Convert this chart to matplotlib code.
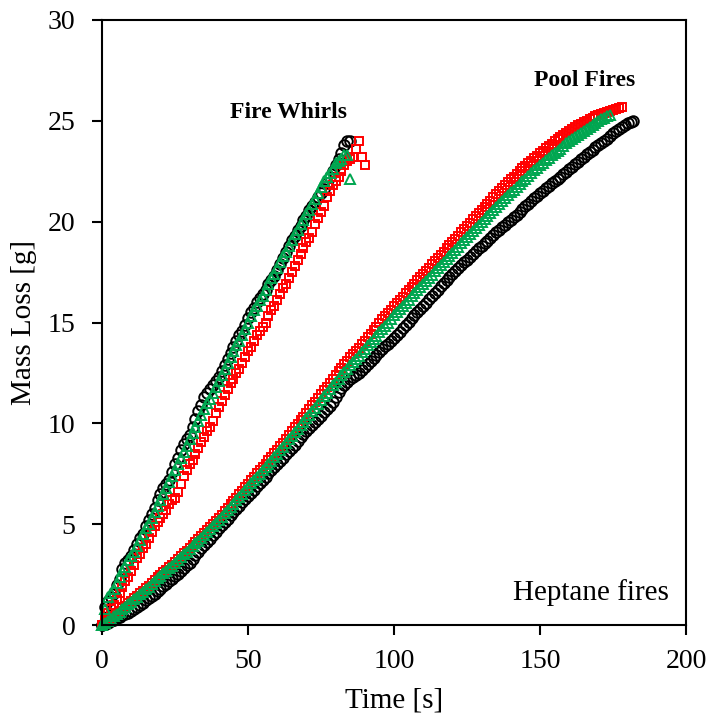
import numpy as np
import matplotlib
matplotlib.use('Agg')
import matplotlib.pyplot as plt

plt.rcParams['font.family'] = ['Liberation Serif', 'DejaVu Serif']

# pool fires, one reading per second
pool_black = [0.0, 0.05, 0.1, 0.18, 0.25, 0.33, 0.4, 0.48, 0.55, 0.62,
              0.7, 0.8, 0.9, 1.0, 1.1, 1.22, 1.35, 1.45, 1.55, 1.68,
              1.8, 1.92, 2.05, 2.18, 2.3, 2.42, 2.55, 2.7, 2.85, 2.97,
              3.1, 3.28, 3.45, 3.62, 3.8, 3.95, 4.1, 4.28, 4.45, 4.62,
              4.8, 4.95, 5.1, 5.28, 5.45, 5.6, 5.75, 5.92, 6.1, 6.25,
              6.4, 6.55, 6.7, 6.88, 7.05, 7.2, 7.35, 7.52, 7.7, 7.85,
              8.0, 8.15, 8.3, 8.48, 8.65, 8.8, 8.95, 9.12, 9.3, 9.45,
              9.6, 9.75, 9.9, 10.05, 10.2, 10.38, 10.55, 10.7, 10.85, 11.05,
              11.3, 11.55, 11.75, 11.9, 12.05, 12.18, 12.3, 12.4, 12.5, 12.65,
              12.8, 12.95, 13.1, 13.25, 13.4, 13.55, 13.7, 13.82, 13.95, 14.1,
              14.25, 14.4, 14.55, 14.72, 14.9, 15.05, 15.2, 15.35, 15.5, 15.65,
              15.8, 15.98, 16.15, 16.3, 16.45, 16.62, 16.8, 16.95, 17.1, 17.25,
              17.4, 17.55, 17.7, 17.85, 18.0, 18.12, 18.25, 18.4, 18.55, 18.68,
              18.8, 18.92, 19.05, 19.2, 19.35, 19.48, 19.6, 19.72, 19.85, 19.98,
              20.1, 20.22, 20.35, 20.5, 20.65, 20.78, 20.9, 21.02, 21.15, 21.28,
              21.4, 21.52, 21.65, 21.78, 21.9, 22.0, 22.1, 22.22, 22.35, 22.48,
              22.6, 22.72, 22.85, 22.98, 23.1, 23.22, 23.35, 23.45, 23.55, 23.68,
              23.8, 23.9, 24.0, 24.12, 24.25, 24.38, 24.5, 24.6, 24.7, 24.8,
              24.9, 24.96, 25.0]

pool_red = [0.0, 0.1, 0.2, 0.32, 0.45, 0.58, 0.7, 0.82, 0.95, 1.08,
            1.2, 1.32, 1.45, 1.58, 1.7, 1.82, 1.95, 2.1, 2.25, 2.38,
            2.5, 2.62, 2.75, 2.88, 3.0, 3.12, 3.25, 3.4, 3.55, 3.68,
            3.8, 3.95, 4.1, 4.25, 4.4, 4.55, 4.7, 4.85, 5.0, 5.15,
            5.3, 5.48, 5.65, 5.82, 6.0, 6.15, 6.3, 6.48, 6.65, 6.82,
            7.0, 7.18, 7.35, 7.52, 7.7, 7.85, 8.0, 8.18, 8.35, 8.52,
            8.7, 8.88, 9.05, 9.22, 9.4, 9.6, 9.8, 9.98, 10.15, 10.32,
            10.5, 10.7, 10.9, 11.08, 11.25, 11.45, 11.65, 11.82, 12.0, 12.2,
            12.4, 12.58, 12.75, 12.92, 13.1, 13.28, 13.45, 13.6, 13.75, 13.92,
            14.1, 14.28, 14.45, 14.62, 14.8, 14.98, 15.15, 15.3, 15.45, 15.62,
            15.8, 15.95, 16.1, 16.28, 16.45, 16.6, 16.75, 16.92, 17.1, 17.25,
            17.4, 17.55, 17.7, 17.88, 18.05, 18.2, 18.35, 18.52, 18.7, 18.85,
            19.0, 19.15, 19.3, 19.48, 19.65, 19.8, 19.95, 20.12, 20.3, 20.45,
            20.6, 20.75, 20.9, 21.05, 21.2, 21.35, 21.5, 21.65, 21.8, 21.95,
            22.1, 22.22, 22.35, 22.5, 22.65, 22.78, 22.9, 23.02, 23.15, 23.28,
            23.4, 23.52, 23.65, 23.75, 23.85, 23.98, 24.1, 24.2, 24.3, 24.4,
            24.5, 24.6, 24.7, 24.78, 24.85, 24.92, 25.0, 25.08, 25.15, 25.22,
            25.3, 25.35, 25.4, 25.45, 25.5, 25.55, 25.6, 25.65, 25.7]

pool_green = [0.0, 0.1, 0.2, 0.32, 0.45, 0.55, 0.65, 0.78, 0.9, 1.02,
              1.15, 1.28, 1.4, 1.52, 1.65, 1.78, 1.9, 2.05, 2.2, 2.32,
              2.45, 2.58, 2.7, 2.82, 2.95, 3.08, 3.2, 3.35, 3.5, 3.62,
              3.75, 3.9, 4.05, 4.18, 4.3, 4.45, 4.6, 4.75, 4.9, 5.05,
              5.2, 5.38, 5.55, 5.7, 5.85, 6.02, 6.2, 6.35, 6.5, 6.68,
              6.85, 7.02, 7.2, 7.35, 7.5, 7.68, 7.85, 8.0, 8.15, 8.32,
              8.5, 8.68, 8.85, 9.02, 9.2, 9.38, 9.55, 9.72, 9.9, 10.08,
              10.25, 10.42, 10.6, 10.78, 10.95, 11.15, 11.35, 11.52, 11.7, 11.88,
              12.05, 12.22, 12.4, 12.55, 12.7, 12.88, 13.05, 13.2, 13.35, 13.52,
              13.7, 13.88, 14.05, 14.2, 14.35, 14.52, 14.7, 14.85, 15.0, 15.18,
              15.35, 15.5, 15.65, 15.8, 15.95, 16.12, 16.3, 16.45, 16.6, 16.75,
              16.9, 17.05, 17.2, 17.38, 17.55, 17.7, 17.85, 18.0, 18.15, 18.3,
              18.45, 18.6, 18.75, 18.92, 19.1, 19.25, 19.4, 19.55, 19.7, 19.85,
              20.0, 20.15, 20.3, 20.45, 20.6, 20.75, 20.9, 21.02, 21.15, 21.3,
              21.45, 21.58, 21.7, 21.85, 22.0, 22.12, 22.25, 22.4, 22.55, 22.68,
              22.8, 22.92, 23.05, 23.18, 23.3, 23.4, 23.5, 23.62, 23.75, 23.88,
              24.0, 24.1, 24.2, 24.3, 24.4, 24.5, 24.6, 24.7, 24.8, 24.9,
              25.0, 25.08, 25.15, 25.22, 25.3]

# fire whirls, one reading per second
whirl_black = [0.0, 0.9, 1.2, 1.4, 1.6, 2.0, 2.3, 2.8, 3.1, 3.2,
               3.4, 3.7, 4.0, 4.3, 4.5, 4.9, 5.2, 5.5, 5.8, 6.2,
               6.5, 6.8, 7.0, 7.2, 7.6, 8.0, 8.3, 8.7, 9.0, 9.2,
               9.4, 9.8, 10.2, 10.6, 10.9, 11.3, 11.5, 11.7, 11.9, 12.1,
               12.3, 12.6, 12.9, 13.2, 13.5, 13.8, 14.1, 14.4, 14.6, 14.9,
               15.2, 15.5, 15.7, 16.0, 16.2, 16.4, 16.6, 16.9, 17.1, 17.3,
               17.6, 17.9, 18.2, 18.5, 18.8, 19.1, 19.3, 19.6, 19.8, 20.1,
               20.3, 20.6, 20.8, 21.0, 21.2, 21.4, 21.6, 21.9, 22.2, 22.5,
               22.8, 23.1, 23.4, 23.8, 24.0, 24.0]

whirl_red = [0.0, 0.3, 0.6, 0.8, 1.0, 1.3, 1.6, 1.9, 2.2, 2.4,
             2.7, 3.0, 3.3, 3.5, 3.8, 4.0, 4.3, 4.6, 4.9, 5.1,
             5.3, 5.5, 5.7, 6.0, 6.2, 6.3, 6.6, 7.0, 7.4, 7.7,
             8.0, 8.2, 8.5, 8.8, 9.1, 9.3, 9.6, 9.8, 10.1, 10.5,
             10.8, 11.1, 11.4, 11.7, 12.0, 12.2, 12.5, 12.7, 13.0, 13.3,
             13.6, 13.8, 14.1, 14.4, 14.6, 14.8, 15.0, 15.3, 15.6, 15.8,
             16.1, 16.4, 16.7, 16.9, 17.2, 17.5, 17.8, 18.1, 18.4, 18.7,
             19.0, 19.2, 19.5, 19.9, 20.2, 20.5, 20.8, 21.2, 21.5, 21.8,
             22.0, 22.2, 22.5, 22.8, 23.0, 23.1, 23.2, 23.6, 24.0, 23.2,
             22.8]

whirl_green = [0.0, 0.8, 1.4, 1.6, 1.8, 2.1, 2.4, 2.7, 2.9, 3.2,
               3.4, 3.6, 3.9, 4.2, 4.5, 4.8, 5.0, 5.3, 5.6, 5.9,
               6.2, 6.5, 6.8, 7.1, 7.4, 7.7, 8.0, 8.3, 8.6, 8.9,
               9.2, 9.5, 9.8, 10.1, 10.4, 10.7, 11.0, 11.2, 11.5, 11.8,
               12.1, 12.4, 12.7, 13.0, 13.3, 13.6, 13.9, 14.1, 14.4, 14.7,
               15.0, 15.3, 15.6, 15.8, 16.1, 16.3, 16.6, 16.9, 17.2, 17.4,
               17.7, 18.0, 18.3, 18.5, 18.8, 19.1, 19.4, 19.6, 19.9, 20.1,
               20.4, 20.6, 20.9, 21.1, 21.4, 21.7, 22.0, 22.2, 22.4, 22.6,
               22.9, 23.0, 23.1, 23.3, 23.3, 22.1]

green = '#00A650'
styles = [('o', 'black', 7.6), ('s', 'red', 6.2), ('^', green, 7.4)]
series = [(whirl_black, pool_black), (whirl_red, pool_red), (whirl_green, pool_green)]

fig = plt.figure(figsize=(7.1, 7.22), dpi=100)
ax = fig.add_axes([0.1437, 0.1343, 0.8225, 0.838])

for (m, c, ms), (wy, py) in zip(styles, series):
    for y in (py, wy):
        t = np.arange(len(y))  # 1 s sampling
        ax.plot(t, y, ls='none', marker=m, ms=ms, mfc='none', mec=c, mew=1.4, clip_on=False)

ax.set_xlim(0, 200)
ax.set_ylim(0, 30)
ax.set_xticks([0, 50, 100, 150, 200])
ax.set_yticks([0, 5, 10, 15, 20, 25, 30])
ax.tick_params(direction='out', length=7, width=1.5, labelsize=20, top=False, right=False)
ax.tick_params(axis='x', pad=10)
ax.tick_params(axis='y', pad=12)
for s in ax.spines.values():
    s.set_linewidth(1.5)
ax.set_xlabel('Time [s]', fontsize=21, labelpad=10)
ax.set_ylabel('Mass Loss [g]', fontsize=21, labelpad=8)

ax.text(63.7, 25.4, 'Fire Whirls', fontsize=17, fontweight='bold', ha='center', va='center')
ax.text(165.4, 27.0, 'Pool Fires', fontsize=17, fontweight='bold', ha='center', va='center')
ax.text(194, 1.6, 'Heptane fires', fontsize=21, ha='right', va='center')

fig.savefig('out.png', dpi=100)
